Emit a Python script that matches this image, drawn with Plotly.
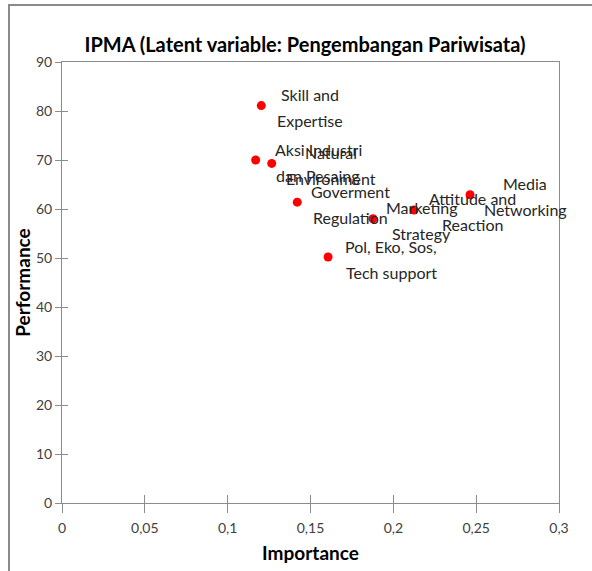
import plotly.graph_objects as go

# Data
labels_line1 = ["Skill and", "Aksi Industri", "Natural", "Goverment", "Pol, Eko, Sos,",
                "Marketing", "Attitude and", "Media"]
labels_line2 = ["Expertise", "dan Pesaing", "Environment", "Regulation", "Tech support",
                "Strategy", "Reaction", "Networking"]
importance = [0.1203, 0.1169, 0.1266, 0.1420, 0.1606, 0.1877, 0.2125, 0.2463]
performance = [81.1, 70.0, 69.3, 61.4, 50.2, 58.0, 59.8, 62.9]

x_tick_vals = [0, 0.05, 0.1, 0.15, 0.2, 0.25, 0.3]
x_tick_text = ["0", "0,05", "0,1", "0,15", "0,2", "0,25", "0,3"]
y_tick_vals = [0, 10, 20, 30, 40, 50, 60, 70, 80, 90]
y_tick_text = ["0", "10", "20", "30", "40", "50", "60", "70", "80", "90"]

FONT = "Lato"
LABEL_SIZE = 16
AXIS_GRAY = "#8c8c8c"


def text_width(s, size):
    w = 0.0
    for ch in s:
        if ch in "ijl,.":
            w += 0.24
        elif ch in "tfr":
            w += 0.36
        elif ch == " ":
            w += 0.26
        elif ch in "mw":
            w += 0.80
        elif ch.isupper():
            w += 0.64
        else:
            w += 0.53
    return w * size


fig = go.Figure()
fig.add_trace(go.Scatter(
    x=importance, y=performance, mode="markers",
    marker=dict(color="#ff0000", size=9),
    hoverinfo="skip", showlegend=False,
))

annotations = []
for x, y, l1, l2 in zip(importance, performance, labels_line1, labels_line2):
    maxw = max(text_width(l1, LABEL_SIZE), text_width(l2, LABEL_SIZE))
    cx = 15 + maxw / 2
    for line, ys in ((l1, 11), (l2, -15)):
        annotations.append(dict(
            x=x, y=y, xref="x", yref="y", text=line, showarrow=False,
            xanchor="center", yanchor="middle", xshift=cx, yshift=ys,
            font=dict(family=FONT, size=LABEL_SIZE, color="#262626"),
        ))

fig.update_layout(
    width=592, height=571,
    margin=dict(l=62, r=33, t=62, b=68),
    paper_bgcolor="white", plot_bgcolor="white",
    separators=",.",
    title=dict(
        text="<b>IPMA (Latent variable: Pengembangan Pariwisata)</b>",
        x=(82 + 528) / 2 / 592, xref="container", xanchor="center",
        y=1 - 45 / 571, yref="container", yanchor="middle",
        font=dict(family=FONT, size=20, color="#000000"),
    ),
    xaxis=dict(
        range=[0, 0.3], tickvals=x_tick_vals, ticktext=x_tick_text,
        showgrid=False, zeroline=False, showline=True, linecolor=AXIS_GRAY,
        linewidth=1, mirror=True, ticks="outside", ticklen=9, tickcolor=AXIS_GRAY,
        tickfont=dict(family=FONT, size=14, color="#404040"),
        ticklabelstandoff=3,
        automargin=False,
        title=dict(text="<b>Importance</b>", font=dict(family=FONT, size=19, color="#000000"),
                   standoff=11),
    ),
    yaxis=dict(
        range=[0, 90], tickvals=y_tick_vals, ticktext=y_tick_text,
        showgrid=False, zeroline=False, showline=True, linecolor=AXIS_GRAY,
        linewidth=1, mirror=True, ticks="outside", ticklen=6, tickcolor=AXIS_GRAY,
        tickfont=dict(family=FONT, size=14, color="#404040"),
        automargin=False,
        title=dict(text="<b>Performance</b>", font=dict(family=FONT, size=19, color="#000000"),
                   standoff=0),
    ),
    # overlay axes drawing the inner half of the crossing tick marks
    xaxis2=dict(
        overlaying="x", side="bottom", range=[0, 0.3], tickvals=x_tick_vals,
        showticklabels=False, showgrid=False, zeroline=False, showline=False,
        ticks="inside", ticklen=8, tickcolor=AXIS_GRAY, automargin=False,
    ),
    yaxis2=dict(
        overlaying="y", side="left", range=[0, 90], tickvals=y_tick_vals,
        showticklabels=False, showgrid=False, zeroline=False, showline=False,
        ticks="inside", ticklen=6, tickcolor=AXIS_GRAY, automargin=False,
    ),
    annotations=annotations,
    shapes=[
        dict(type="line", xref="paper", yref="paper",
             x0=(9 - 62) / 497, x1=(9 - 62) / 497, y0=(503 - 575) / 441, y1=(503 - 4) / 441,
             line=dict(color="#8a8a8a", width=2)),
        dict(type="line", xref="paper", yref="paper",
             x0=(8 - 62) / 497, x1=(600 - 62) / 497, y0=(503 - 5) / 441, y1=(503 - 5) / 441,
             line=dict(color="#8a8a8a", width=2)),
    ],
)
# invisible trace so the overlay axes are laid out
fig.add_trace(go.Scatter(x=[None], y=[None], xaxis="x2", yaxis="y2",
                         mode="markers", showlegend=False, hoverinfo="skip"))

fig.write_html("out.html", config={"displayModeBar": False},
               post_script="document.body.style.margin='0';")
